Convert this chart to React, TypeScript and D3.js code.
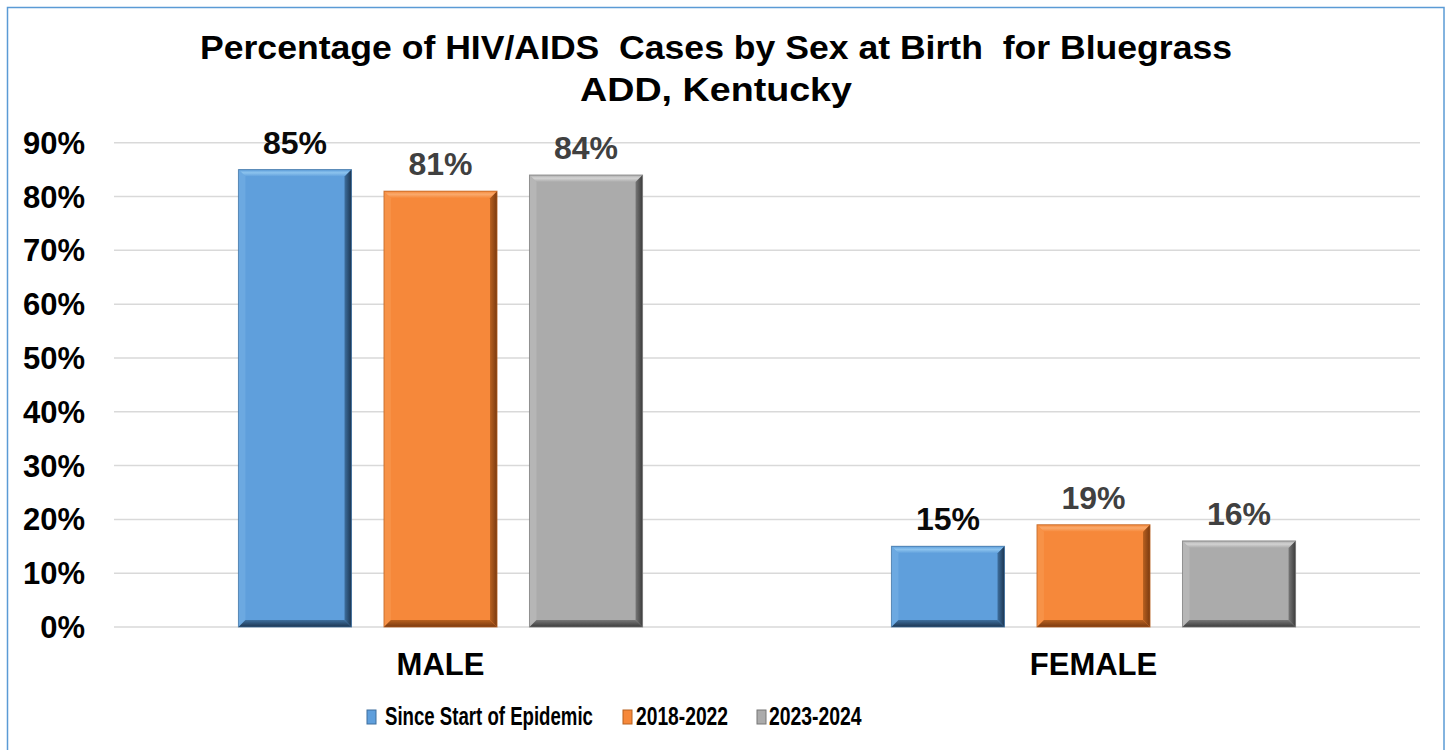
import React from "react";
import * as d3 from "d3";

const categories = ["MALE", "FEMALE"];
const seriesNames = ["Since Start of Epidemic", "2018-2022", "2023-2024"];
const sinceStart = [85, 15];
const y2018_2022 = [81, 19];
const y2023_2024 = [84, 16];
const yTicks = [0, 10, 20, 30, 40, 50, 60, 70, 80, 90];
const titleLines = ["Percentage of HIV/AIDS  Cases by Sex at Birth  for Bluegrass", "ADD, Kentucky"];

const seriesValues = [sinceStart, y2018_2022, y2023_2024];

const palette = [
  { main: "#5F9FDC", light: "#8CC3EE", lightL: "#74B0E4", dark: "#1C3550", mid: "#3E6F9E", label: "#0a0a0a" },
  { main: "#F6883A", light: "#FAAA6C", lightL: "#F89A50", dark: "#7A3A10", mid: "#B8601F", label: "#404040" },
  { main: "#ABABAB", light: "#D3D3D3", lightL: "#BEBEBE", dark: "#3C3C3C", mid: "#777777", label: "#404040" },
];

const FONT = "'Liberation Sans', Arial, Helvetica, sans-serif";

export default function App() {
  const W = 1450;
  const H = 750;
  const plotLeft = 114;
  const plotRight = 1420;
  const y = d3.scaleLinear().domain([0, 90]).range([627, 142.7]);
  const x0 = d3.scaleBand<string>().domain(categories).range([plotLeft, plotRight]).paddingInner(0).paddingOuter(0);
  const x1 = d3
    .scaleBand<string>()
    .domain(seriesNames)
    .range([0, x0.bandwidth()])
    .paddingInner(0.223)
    .paddingOuter(0.855);
  const bw = x1.bandwidth();
  const b = 7;

  const legendItems = [
    { mx: 367, tx: 385, sx: 0.745 },
    { mx: 623, tx: 636, sx: 0.77 },
    { mx: 757, tx: 769, sx: 0.775 },
  ];
  const titleWidths = [1032, 272];

  return (
    <svg
      width={W}
      height={H}
      style={{ position: "absolute", left: 0, top: 0, background: "#fff" }}
      fontFamily={FONT}
    >
      <defs>
        {palette.map((p, i) => (
          <React.Fragment key={i}>
            <linearGradient id={`r${i}`} x1="0" y1="0" x2="1" y2="0">
              <stop offset="0" stopColor={p.mid} />
              <stop offset="1" stopColor={p.dark} />
            </linearGradient>
            <linearGradient id={`b${i}`} x1="0" y1="0" x2="0" y2="1">
              <stop offset="0" stopColor={p.mid} />
              <stop offset="1" stopColor={p.dark} />
            </linearGradient>
            <linearGradient id={`t${i}`} x1="0" y1="0" x2="0" y2="1">
              <stop offset="0" stopColor={p.main} />
              <stop offset="0.45" stopColor={p.light} />
              <stop offset="1" stopColor={p.main} />
            </linearGradient>
          </React.Fragment>
        ))}
      </defs>
      <rect x={0} y={0} width={W} height={H} fill="#fff" />
      <rect x={7.5} y={7.5} width={1436.5} height={H + 20} fill="none" stroke="#5B9BD5" strokeWidth={1.5} />

      {titleLines.map((t, i) => (
        <text
          key={i}
          x={716}
          y={59 + i * 42}
          textAnchor="middle"
          fontWeight="bold"
          fontSize={33}
          fill="#000"
          textLength={titleWidths[i]}
          lengthAdjust="spacingAndGlyphs"
          style={{ whiteSpace: "pre" }}
        >
          {t}
        </text>
      ))}

      {yTicks.map((t) => (
        <g key={t}>
          <line x1={plotLeft} x2={plotRight} y1={y(t)} y2={y(t)} stroke="#D9D9D9" strokeWidth={1.5} />
          <text x={85} y={y(t) + 11} textAnchor="end" fontWeight="bold" fontSize={31} fill="#000">
            {t}%
          </text>
        </g>
      ))}

      {categories.map((c, ci) => (
        <g key={c}>
          {seriesNames.map((s, si) => {
            const v = seriesValues[si][ci];
            const p = palette[si];
            const bx = (x0(c) as number) + (x1(s) as number);
            const by = y(v);
            const bh = y(0) - by;
            const w = bw;
            return (
              <g key={s}>
                <rect x={bx} y={by} width={w} height={bh} fill={p.main} />
                <polygon points={`${bx},${by} ${bx + w},${by} ${bx + w - b},${by + b} ${bx + b},${by + b}`} fill={`url(#t${si})`} />
                <polygon points={`${bx},${by} ${bx + b},${by + b} ${bx + b},${by + bh - b} ${bx},${by + bh}`} fill={p.lightL} opacity={0.6} />
                <polygon points={`${bx + w},${by} ${bx + w},${by + bh} ${bx + w - b},${by + bh - b} ${bx + w - b},${by + b}`} fill={`url(#r${si})`} />
                <polygon points={`${bx},${by + bh} ${bx + w},${by + bh} ${bx + w - b},${by + bh - b} ${bx + b},${by + bh - b}`} fill={`url(#b${si})`} />
                <rect x={bx} y={by} width={w} height={bh} fill="none" stroke={p.mid} strokeWidth={1} strokeOpacity={0.7} />
                <text
                  x={bx + w / 2}
                  y={by - 16}
                  textAnchor="middle"
                  fontWeight="bold"
                  fontSize={32}
                  fill={p.label}
                >
                  {v}%
                </text>
              </g>
            );
          })}
          <text
            x={(x0(c) as number) + x0.bandwidth() / 2}
            y={675}
            textAnchor="middle"
            fontWeight="bold"
            fontSize={31}
            fill="#000"
          >
            {c}
          </text>
        </g>
      ))}

      {seriesNames.map((s, si) => {
        const it = legendItems[si];
        const p = palette[si];
        return (
          <g key={s}>
            <rect x={it.mx} y={710} width={9} height={14} fill={p.main} stroke={p.mid} strokeWidth={1} />
            <text
              transform={`translate(${it.tx},725) scale(${it.sx},1)`}
              fontWeight="bold"
              fontSize={25}
              fill="#000"
            >
              {s}
            </text>
          </g>
        );
      })}
    </svg>
  );
}
